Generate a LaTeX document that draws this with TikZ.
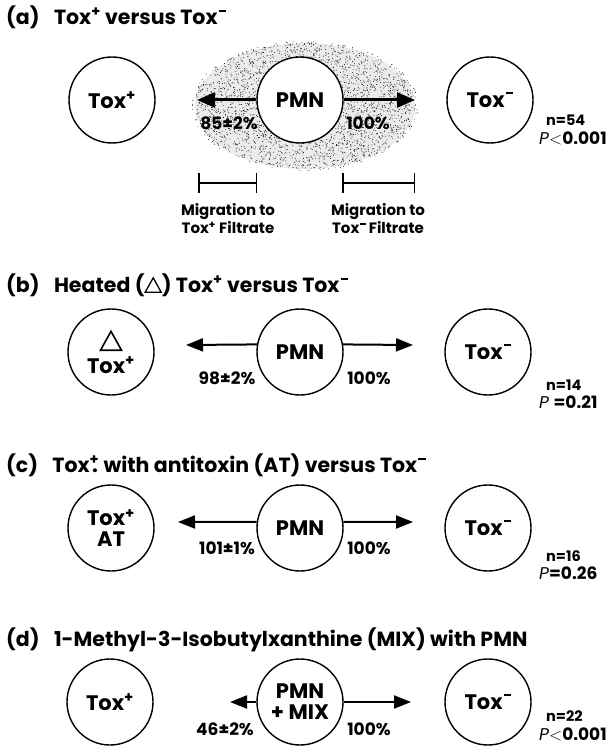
\documentclass[tikz,border=0pt]{standalone}
\usepackage{fontspec}
\setmainfont{Poppins}
\usetikzlibrary{arrows.meta}
\newcommand\tp{\textsuperscript{+}}
\newcommand\tm{\kern0.06em\rule[0.62em]{0.36em}{0.09em}}
\newcommand\trishape[1]{\tikz[baseline=0pt]\draw[line width=#1, line join=miter] (0,0)--(0.78em,0)--(0.39em,0.7em)--cycle;}
\begin{document}
\begin{tikzpicture}[x=1pt,y=-1pt,
 circ/.style={draw, circle, line width=1.4pt, minimum size=86pt, inner sep=0pt, align=center, font=\fontsize{21}{24}\selectfont\bfseries, fill=white},
 ttl/.style={anchor=west, font=\fontsize{20.5}{24}\selectfont\bfseries, inner sep=0pt},
 pct/.style={font=\fontsize{17}{19}\selectfont\bfseries, inner sep=0pt},
 mig/.style={font=\fontsize{15}{18}\selectfont\bfseries, inner sep=0pt, align=center},
 nlab/.style={anchor=west, font=\fontsize{14.5}{16}\selectfont\bfseries, inner sep=0pt},
 plab/.style={anchor=west, font=\fontsize{17}{18}\selectfont, inner sep=0pt},
 bigarr/.style={line width=3pt, -{Triangle[length=18pt,width=15pt]}},
 arr/.style={line width=2pt, -{Triangle[length=17pt,width=13pt]}},
 scalebar/.style={line width=1.5pt, {Bar[width=20pt,line width=1.5pt]}-{Bar[width=20pt,line width=1.5pt]}}
]
\useasboundingbox (0,0) rectangle (611,746);

% ---------- (a) ----------
\node[ttl] (ta) at (6,17) {(a)\hspace{0.7em}Tox\tp{} versus Tox\tm};
\fill[black!8] (305,106) ellipse [x radius=110, y radius=63];
\pgfmathsetseed{7}
\foreach \k in {1,...,3000}{
  \pgfmathsetmacro{\rr}{1.03*sqrt(rnd)}
  \pgfmathsetmacro{\ang}{360*rnd}
  \fill[black] ({305+110*\rr*cos(\ang)},{106+63*\rr*sin(\ang)}) circle (0.45pt);
}
\node[circ] (ap) at (112,100) {Tox\tp};
\node[circ] (apmn) at (300,100) {PMN};
\node[circ] (am) at (490,100) {Tox\tm};
\coordinate (aL) at (197,100);
\coordinate (aR) at (415,100);
\draw[bigarr] (apmn.west) -- (aL);
\draw[bigarr] (apmn.east) -- (aR);
\node[pct] (alab) at (229,123) {85±2\%};
\node[pct] (arlab) at (368,123) {100\%};
\node[nlab] (an) at (546,120) {n=54};
\node[plab] (aP) at (539,138) {\textit{P}$<$\textbf{0.001}};
\coordinate (b1) at (198,183);
\coordinate (b2) at (257,183);
\coordinate (b3) at (342,183);
\coordinate (b4) at (415,183);
\draw[scalebar] (b1) -- (b2);
\draw[scalebar] (b3) -- (b4);
\node[mig] (m1) at (228,219) {Migration to\\Tox\tp{} Filtrate};
\node[mig] (m2) at (378,219) {Migration to\\Tox\tm{} Filtrate};

% ---------- (b) ----------
\node[ttl] (tb) at (6,285) {(b)\hspace{0.7em}Heated (\trishape{1.3pt}) Tox\tp{} versus Tox\tm};
\node[circ] (bp) at (111,352) {{\fontsize{27}{27}\selectfont\trishape{1.6pt}}\\[-1pt]Tox\tp};
\node[circ] (bpmn) at (300,352) {PMN};
\node[circ] (bm) at (488,352) {Tox\tm};
\coordinate (bL) at (186,345);
\coordinate (bR) at (413,345);
\draw[arr] (bpmn.170) -- (bL);
\draw[arr] (bpmn.10) -- (bR);
\node[pct] (blab) at (227,378) {98±2\%};
\node[pct] (brlab) at (369,378) {100\%};
\node[nlab] (bn) at (546,385) {n=14};
\node[plab] (bP) at (539,402) {\textit{P} \textbf{=0.21}};

% ---------- (c) ----------
\node[ttl] (tc) at (6,465) {(c)\hspace{0.7em}Tox\rlap{\kern0.12em.}\tp{} with antitoxin (AT) versus Tox\tm};
\node[circ] (cp) at (111,528) {Tox\tp\\[-3pt]AT};
\node[circ] (cpmn) at (300,528) {PMN};
\node[circ] (cm) at (488,528) {Tox\tm};
\coordinate (cL) at (178,522);
\coordinate (cR) at (413,522);
\draw[arr] (cpmn.172) -- (cL);
\draw[arr] (cpmn.8) -- (cR);
\node[pct] (clab) at (227,548) {101±1\%};
\node[pct] (crlab) at (369,548) {100\%};
\node[nlab] (cn) at (546,556) {n=16};
\node[plab] (cP) at (539,573) {\textit{P}\textbf{=0.26}};

% ---------- (d) ----------
\node[ttl] (td) at (6,640) {(d)\hspace{0.7em}1-Methyl-3-Isobutylxanthine (MIX) with PMN};
\node[circ] (dp) at (110,702) {Tox\tp};
\node[circ] (dpmn) at (300,702) {PMN\\[-3pt]+ MIX};
\node[circ] (dm) at (488,702) {Tox\tm};
\coordinate (dL) at (230,702);
\coordinate (dR) at (411,702);
\draw[arr] (dpmn.west) -- (dL);
\draw[arr] (dpmn.east) -- (dR);
\node[pct] (dlab) at (225,729) {46±2\%};
\node[pct] (drlab) at (369,729) {100\%};
\node[nlab] (dn) at (546,716) {n=22};
\node[plab] (dP) at (539,734) {\textit{P}$<$\textbf{0.001}};
\end{tikzpicture}
\end{document}
